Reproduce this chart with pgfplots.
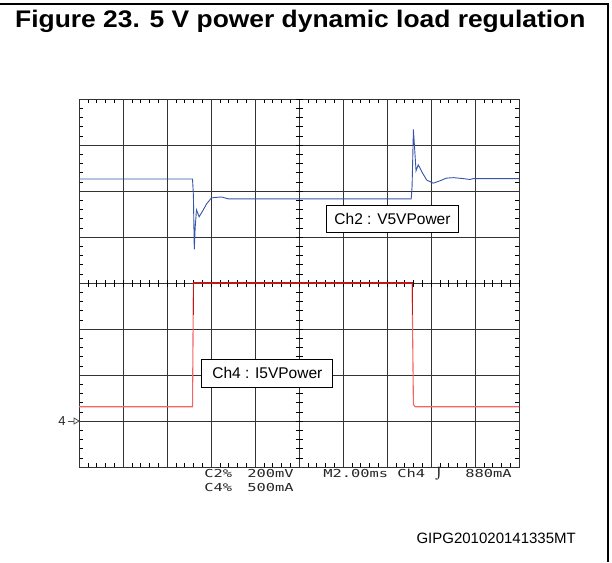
\documentclass[border=0pt]{standalone}
\usepackage{pgfplots}
\pgfplotsset{compat=1.18}
\usepackage{fontspec}
\setmainfont{Liberation Sans}
\newfontfamily\scopefont{DejaVu Sans Mono}
\definecolor{traceblue}{RGB}{55,85,170}
\definecolor{tracered}{RGB}{245,100,100}
\definecolor{tracedark}{RGB}{190,25,25}
\begin{document}
\begin{tikzpicture}[x=1pt,y=1pt]
\path[use as bounding box] (0,0) rectangle (612,562);
% frame
\draw[line width=2pt] (0,558) -- (608,558) -- (608,0);
% title
\node[anchor=base west, font=\fontsize{24}{28}\selectfont\bfseries, xscale=1.1, inner sep=0pt] at (15,534) {Figure 23. 5 V power dynamic load regulation};
\begin{axis}[
  at={(79pt,95pt)}, anchor=south west,
  width=440pt, height=368pt, scale only axis,
  xmin=0, xmax=10, ymin=0, ymax=8,
  xtick={0,...,10}, ytick={0,...,8},
  xticklabels={}, yticklabels={},
  grid=major,
  major grid style={black!80, line width=0.8pt},
  major tick length=0pt,
  minor x tick num=4, minor y tick num=4,
  minor tick length=4pt,
  tick align=inside,
  minor tick style={black, line width=0.6pt},
  axis line style={black!80, line width=1pt},
  clip=false,
]
% ticks on the centre lines
\pgfplotsinvokeforeach{0.2,0.4,...,9.9}{
  \draw[black, line width=0.6pt] (axis cs:#1,4) ++(0,-3.5pt) -- ++(0,7pt);
}
\pgfplotsinvokeforeach{0.2,0.4,...,7.9}{
  \draw[black, line width=0.6pt] (axis cs:5,#1) ++(-3.5pt,0) -- ++(7pt,0);
}
% Ch4 current trace
\addplot[tracered, line width=1.1pt] coordinates {
 (0,1.31) (2.58,1.31) (2.60,4.0) (7.57,4.0) (7.60,1.36) (7.64,1.31) (10,1.31)
};
\addplot[tracedark, line width=1.1pt] coordinates {
 (2.60,3.3) (2.60,4.0) (7.57,4.0) (7.57,3.3)
};
% Ch2 voltage trace
\addplot[traceblue, line width=0.9pt] coordinates {
 (0,6.26) (2.58,6.26) (2.60,5.9) (2.62,4.73) (2.64,5.2) (2.67,5.59)
 (2.73,5.44) (2.80,5.55) (2.90,5.72) (3.01,5.85) (3.10,5.86) (3.24,5.87)
 (3.39,5.83) (7.55,5.83) (7.57,6.10) (7.60,7.34) (7.66,6.44) (7.71,6.57)
 (7.79,6.42) (7.90,6.24) (8.05,6.17) (8.20,6.22) (8.35,6.28) (8.51,6.29)
 (8.73,6.27) (8.89,6.25) (8.96,6.27) (10,6.27)
};
\node[draw=black, fill=white, line width=0.8pt, font=\fontsize{15.5}{17}\selectfont,
      minimum width=132pt, minimum height=27pt, inner sep=0pt]
      at (axis cs:7.125,5.40) {Ch2 : V5VPower};
\node[draw=black, fill=white, line width=0.8pt, font=\fontsize{15.5}{17}\selectfont,
      minimum width=131pt, minimum height=28pt, inner sep=0pt]
      at (axis cs:4.28,2.04) {Ch4 : I5VPower};
\end{axis}
% channel 4 ground marker
\node[anchor=center, font=\fontsize{13}{14}\selectfont, inner sep=0pt, text=black!85] at (62,141) {4};
\draw[black!70, line width=0.8pt] (68,141) -- (74,141);
\draw[black!70, line width=0.8pt] (74,138) -- (79,141) -- (74,144) -- cycle;
% scope readout
\begin{scope}[every node/.style={anchor=base west, inner sep=0pt, xscale=1.4,
   font=\scopefont\fontsize{11}{12}\selectfont, text=black!85}]
\node at (204,85) {C2\%};
\node at (247,85) {200mV};
\node at (323,85) {M2.00ms};
\node at (397,85) {Ch4 ⌡};
\node at (465,85) {880mA};
\node at (204,71) {C4\%};
\node at (247,71) {500mA};
\end{scope}
\node[anchor=base east, inner sep=0pt, font=\fontsize{15}{17}\selectfont] at (576,19) {GIPG201020141335MT};
\end{tikzpicture}
\end{document}
